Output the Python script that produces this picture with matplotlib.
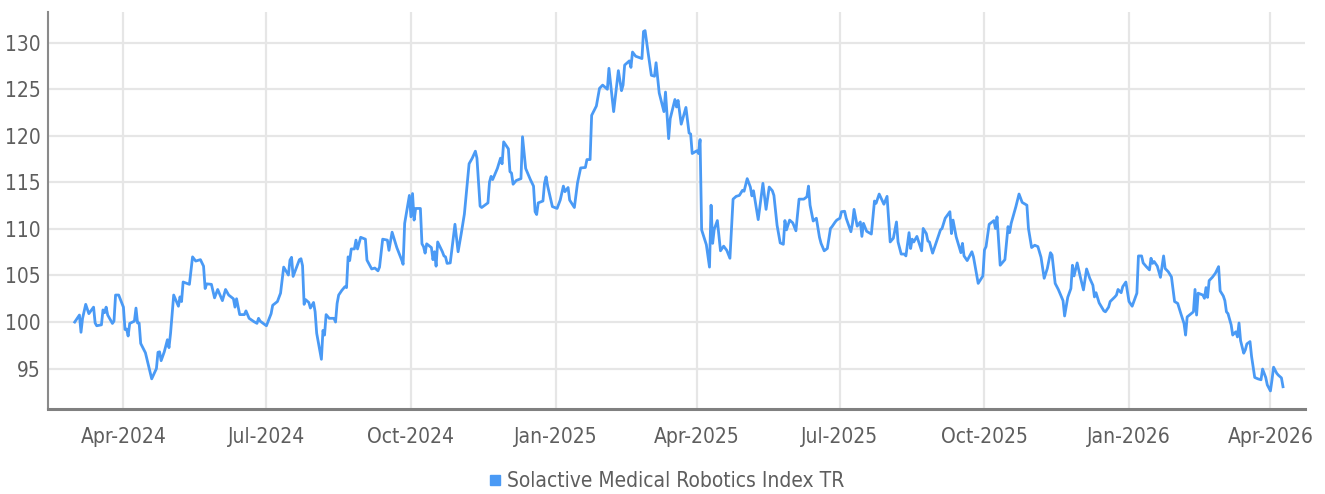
import matplotlib
matplotlib.use('Agg')
import matplotlib.pyplot as plt
import matplotlib.dates as mdates
from matplotlib.lines import Line2D
import pandas as pd

# days counted from 2024-04-01
day = [-31, -28, -27, -26, -24, -22, -19, -18, -17, -14, -13, -12, -11, -10, -7, -6, -5, -3,
       0, 1, 2, 3, 4, 7, 8, 9, 10, 11, 14, 16, 18, 21, 22, 23, 24, 26, 28, 29, 30, 32, 35, 36,
       37, 38, 42, 44, 46, 49, 51, 52, 53, 56, 58, 60, 63, 65, 67, 70, 71, 72, 74, 77, 78, 80,
       83, 85, 86, 87, 91, 94, 95, 98, 100, 102, 105, 106, 107, 108, 112, 113, 114, 115, 116,
       118, 119, 121, 122, 123, 126, 127, 128, 129, 131, 134, 135, 136, 137, 139, 141, 142,
       143, 144, 145, 147, 148, 149, 151, 154, 155, 158, 160, 162, 163, 165, 168, 169, 171,
       174, 177, 178, 179, 182, 183, 184, 185, 186, 189, 190, 191, 192, 193, 196, 197, 198,
       199, 200, 203, 204, 205, 206, 208, 211, 213, 215, 217, 220, 222, 224, 225, 227, 228,
       232, 233, 234, 235, 238, 240, 241, 242, 245, 246, 247, 248, 250, 253, 254, 256, 259,
       261, 262, 263, 264, 267, 268, 269, 270, 273, 276, 278, 280, 281, 283, 284, 287, 289,
       291, 294, 295, 297, 298, 301, 303, 305, 308, 309, 312, 315, 317, 318, 319, 322, 323,
       324, 326, 330, 331, 332, 334, 336, 338, 339, 341, 344, 345, 347, 348, 351, 352, 353,
       355, 358, 360, 361, 362, 365, 366, 367, 368, 371, 373, 374, 375, 376, 378, 380, 382,
       384, 386, 388, 390, 392, 394, 395, 397, 399, 400, 401, 404, 407, 409, 411, 413, 414,
       416, 418, 420, 421, 422, 424, 426, 428, 430, 433, 435, 436, 437, 439, 441, 443, 444,
       446, 448, 450, 451, 453, 454, 456, 457, 459, 460, 463, 464, 465, 467, 469, 470, 471,
       473, 476, 478, 479, 481, 484, 486, 488, 490, 492, 493, 495, 497, 498, 500, 501, 502,
       503, 505, 508, 509, 511, 512, 513, 515, 517, 520, 521, 523, 526, 527, 528, 530, 533,
       534, 535, 537, 540, 541, 544, 547, 548, 549, 551, 554, 555, 556, 558, 561, 563, 564,
       565, 568, 570, 572, 575, 576, 578, 580, 582, 584, 586, 588, 590, 591, 593, 595, 597,
       598, 599, 601, 603, 604, 605, 607, 609, 611, 613, 615, 617, 618, 619, 621, 624, 625,
       627, 628, 631, 632, 633, 635, 636, 638, 640, 642, 645, 646, 648, 649, 651, 653, 654,
       655, 656, 658, 660, 661, 662, 663, 665, 667, 669, 671, 673, 675, 676, 677, 681, 682,
       683, 684, 687, 688, 689, 690, 691, 693, 695, 697, 698, 700, 701, 702, 703, 705, 706,
       707, 708, 709, 710, 711, 713, 714, 715, 717, 718, 720, 722, 724, 725, 727, 728, 730,
       731, 732, 734, 735, 737, 738]

val = [100.0, 100.75, 98.9, 100.4, 101.9, 100.9, 101.6, 99.9, 99.6, 99.7, 101.3, 101.0, 101.6,
       100.75, 99.85, 100.1, 102.9, 102.9,
       101.6, 99.2, 99.25, 98.5, 99.85, 100.1, 101.5, 99.9, 99.9, 97.7, 96.7, 95.3, 93.9, 95.0,
       96.75, 96.8, 95.85, 96.8, 98.1, 97.25, 98.8, 102.9, 101.7, 102.7,
       102.2, 104.3, 104.05, 107.0, 106.55, 106.7, 106.0, 103.6, 104.1, 104.05, 102.6, 103.5,
       102.3, 103.5, 102.9, 102.5, 101.6, 102.5, 100.8, 100.8, 101.2, 100.4,
       100.05, 99.86, 100.4, 100.1, 99.6, 100.9, 101.8, 102.2, 103.1, 105.9, 105.05, 106.65,
       106.95, 104.9, 106.7, 106.8, 106.05, 101.9, 102.4,
       102.1, 101.5, 102.1, 101.1, 98.8, 96.0, 99.1, 98.6, 100.8, 100.4, 100.4, 100.0, 102.0,
       102.9, 103.4, 103.8, 103.7,
       107.0, 106.6, 107.85, 107.85, 108.8, 107.85, 109.1, 108.9, 106.65, 105.7, 105.8, 105.5,
       105.9, 108.9, 108.8, 107.7, 109.65,
       108.0, 106.7, 106.2, 110.6, 113.6, 111.3, 113.8, 110.95, 112.2, 112.2, 108.4, 108.1,
       107.4, 108.4, 108.0, 106.7, 107.55,
       106.0, 108.6, 107.55, 107.1, 107.0, 106.3, 106.35, 110.5, 107.55, 109.5, 111.6, 117.0,
       117.6, 118.35, 117.6, 112.45, 112.3,
       112.8, 115.05, 115.65, 115.3, 116.5, 117.6, 117.0, 119.35, 118.6, 116.15, 116.0, 114.8,
       115.2, 115.4, 119.9, 116.5, 115.3,
       114.6, 111.85, 111.55, 112.8, 113.0, 114.9, 115.6, 114.6, 112.4, 112.2, 113.1, 114.6,
       114.0, 114.45, 113.1, 112.3, 114.95,
       116.55, 116.6, 117.45, 117.45, 122.2, 123.2, 125.1, 125.45, 125.0, 127.25, 122.6, 127.0,
       124.85, 125.45, 127.6, 128.05, 127.35,
       129.0, 128.55, 128.3, 131.2, 131.3, 128.85, 126.5, 126.4, 127.85, 124.6, 122.6, 124.7,
       119.7, 121.85, 123.9, 123.1, 123.8,
       121.25, 123.05, 120.3, 120.2, 118.1, 118.4, 118.1, 119.6, 109.9, 108.3, 105.9, 112.55,
       108.45, 109.95, 110.9, 107.65, 108.15,
       107.7, 106.85, 113.2, 113.5, 113.6, 114.15, 114.05, 115.4, 114.5, 113.55, 114.1, 111.0,
       114.9, 112.1, 114.5, 114.1, 113.6,
       110.4, 108.5, 108.35, 110.9, 109.9, 110.95, 110.65, 109.8, 113.2, 113.2, 113.45, 114.6,
       112.55, 110.85, 111.15, 109.1, 108.45,
       107.65, 107.9, 110.05, 110.25, 110.75, 110.95, 111.15, 111.85, 111.9, 111.15, 109.7,
       110.6, 112.1, 110.3, 110.75, 109.2, 110.6,
       109.75, 109.45, 113.0, 112.75, 113.75, 112.65, 113.5, 108.6, 109.0, 110.75, 108.6, 107.3,
       107.3, 107.1, 109.6, 107.9, 108.9,
       108.6, 109.2, 107.65, 110.05, 109.5, 108.7, 108.6, 107.4, 108.4, 109.9, 110.05, 111.15,
       111.85, 109.5, 110.95, 109.15, 107.45,
       108.45, 107.1, 106.6, 107.55, 107.0, 104.15, 104.95, 107.75, 108.1, 110.5, 110.9, 110.05,
       111.3, 106.1, 106.7, 110.25, 109.6,
       110.6, 112.4, 113.75, 112.85, 112.55, 110.05, 108.0, 108.25, 108.1, 106.95, 104.7, 105.75,
       107.45, 107.2, 104.15, 103.5, 102.7,
       102.3, 100.65, 102.65, 103.6, 106.1, 104.95, 106.35, 104.85, 103.45, 105.7, 104.7, 103.95,
       102.7, 103.15, 102.05, 101.2, 101.1,
       101.6, 102.2, 102.7, 102.9, 103.5, 103.15, 103.8, 104.3, 102.2, 101.7, 103.1, 107.1,
       107.1, 106.35, 105.95, 105.6, 106.85,
       106.3, 106.5, 106.0, 104.8, 105.95, 107.1, 105.75, 105.4, 104.85, 102.2, 102.0, 100.9,
       99.85, 98.6, 100.55, 101.1, 103.5,
       100.75, 103.1, 102.9, 102.55, 103.7, 102.65, 104.45, 104.8, 105.25, 105.95, 103.35, 102.8,
       102.3, 101.1, 100.9, 99.7, 98.6,
       98.8, 98.95, 98.4, 99.9, 98.0, 96.65, 97.0, 97.65, 97.9, 96.3, 94.05, 93.9, 93.8, 94.95,
       94.05, 93.25, 92.6,
       93.8, 95.15, 94.5, 94.3, 94.0, 93.05]

series_name = 'Solactive Medical Robotics Index TR'
yticks = [95, 100, 105, 110, 115, 120, 125, 130]
xticks = ['2024-04-01', '2024-07-01', '2024-10-01', '2025-01-01', '2025-04-01',
          '2025-07-01', '2025-10-01', '2026-01-01', '2026-04-01']

blue = '#4a9af5'
grey_txt = '#5e5e5e'
plt.rcParams['font.family'] = ['DejaVu Sans']
plt.rcParams['font.stretch'] = 'condensed'

dates = pd.Timestamp('2024-04-01') + pd.to_timedelta(day, unit='D')

fig = plt.figure(figsize=(13.25, 4.94), dpi=100)
ax = fig.add_axes([48 / 1325, 1 - 409 / 494, (1305 - 48) / 1325, (409 - 12) / 494])

ax.plot(dates, val, color=blue, lw=2.0, zorder=3)

ax.set_ylim(90.66, 133.3)
ax.set_xlim(pd.Timestamp('2024-02-13'), pd.Timestamp('2026-04-23'))
ax.set_yticks(yticks)
ax.set_xticks(pd.to_datetime(xticks))
ax.xaxis.set_major_formatter(mdates.DateFormatter('%b-%Y'))

ax.grid(True, color='#e6e6e6', lw=1.6, zorder=0)
ax.set_axisbelow(True)
for s in ['top', 'right']:
    ax.spines[s].set_visible(False)
ax.spines['left'].set_color('#8a8a8a')
ax.spines['left'].set_linewidth(1.5)
ax.spines['bottom'].set_color('#808080')
ax.spines['bottom'].set_linewidth(2.2)

ax.tick_params(axis='both', length=0, labelsize=15, colors=grey_txt)
ax.tick_params(axis='y', pad=5)
ax.tick_params(axis='x', pad=13)

handle = Line2D([], [], ls='none', marker='s', markersize=7, color=blue)
fig.legend([handle], [series_name], loc='center', bbox_to_anchor=(0.503, 0.026),
           frameon=False, fontsize=15, handlelength=0.6, handletextpad=0.3,
           labelcolor=grey_txt)

fig.savefig('out.png', dpi=100)
